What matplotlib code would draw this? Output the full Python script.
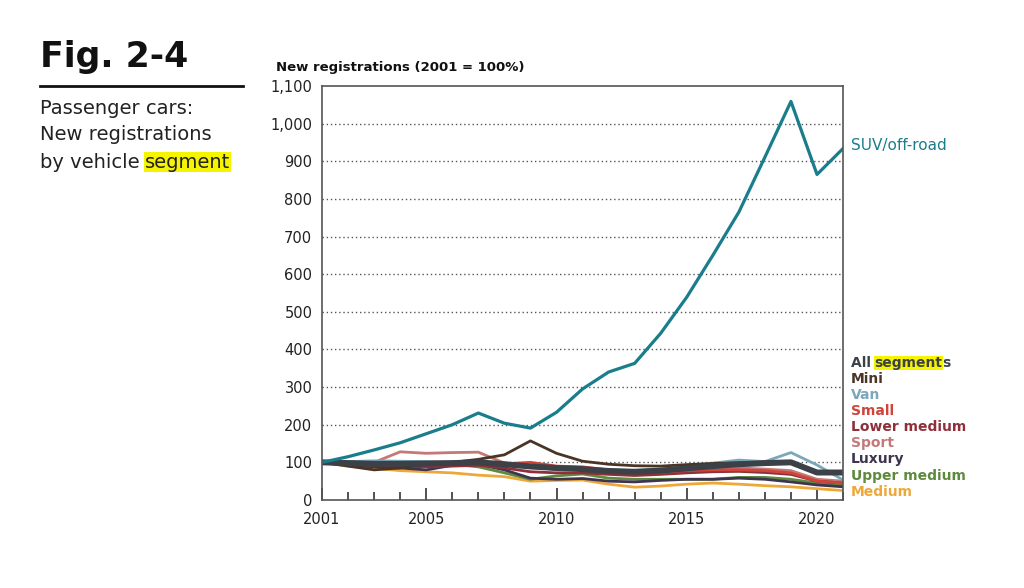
import matplotlib
matplotlib.use("Agg")
from matplotlib import pyplot as plt

plt.rcParams['font.family'] = ['DejaVu Sans']

years = list(range(2001, 2022))

suv = [100, 115, 133, 152, 176, 200, 231, 204, 191, 233, 295, 340, 363, 443, 539, 650, 765, 911, 1059, 865, 934]
all_segments = [100, 98, 96, 96, 97, 98, 100, 95, 89, 85, 82, 77, 75, 78, 84, 90, 95, 98, 100, 73, 73]
mini = [100, 90, 80, 85, 95, 100, 108, 120, 157, 124, 103, 95, 91, 90, 94, 97, 99, 100, 100, 70, 71]
van = [100, 102, 104, 103, 102, 100, 98, 94, 88, 82, 84, 80, 78, 82, 90, 98, 106, 102, 126, 93, 53]
small = [100, 98, 96, 95, 95, 97, 98, 96, 100, 90, 88, 80, 75, 74, 78, 80, 80, 78, 72, 50, 45]
lower_medium = [100, 95, 92, 90, 88, 90, 92, 85, 75, 72, 72, 68, 65, 68, 72, 75, 76, 73, 68, 50, 45]
sport = [100, 95, 100, 128, 124, 126, 127, 98, 90, 80, 82, 75, 72, 70, 75, 80, 85, 82, 78, 55, 50]
luxury = [100, 92, 88, 85, 80, 92, 95, 80, 58, 55, 57, 50, 48, 52, 55, 55, 58, 55, 48, 40, 35]
upper_medium = [100, 100, 100, 100, 98, 95, 88, 72, 55, 64, 69, 58, 55, 55, 55, 55, 60, 60, 55, 45, 40]
medium = [100, 90, 84, 78, 75, 72, 66, 62, 50, 52, 53, 42, 34, 37, 42, 45, 42, 38, 35, 30, 25]

labels = ["Mini", "Van", "Small", "Lower medium", "Sport", "Luxury", "Upper medium", "Medium"]
series = [mini, van, small, lower_medium, sport, luxury, upper_medium, medium]
colors = ["#4a3426", "#7ba7ba", "#d0443a", "#8e2f3a", "#c47878", "#3d3550", "#5e8a3e", "#eea83a"]

fig = plt.figure(figsize=(10.24, 5.88), dpi=100)
ax = fig.add_axes([0.3145, 0.1497, 0.5088, 0.704])

for i in range(100, 1100, 100):
    ax.axhline(i, color="#555555", lw=1, ls=(0, (1, 2)), zorder=0)

# draw back to front so the thin ones sit under the total
for vals, c in zip(series[::-1], colors[::-1]):
    ax.plot(years, vals, color=c, lw=2)
ax.plot(years, all_segments, color="#3b4146", lw=4.3)
ax.plot(years, suv, color="#1a7d8c", lw=2.3)

ax.set_xlim(2001, 2021)
ax.set_ylim(0, 1100)
ax.set_yticks(range(0, 1200, 100))
ax.set_yticklabels(["0", "100", "200", "300", "400", "500", "600", "700", "800", "900", "1,000", "1,100"])
ax.set_xticks([2001, 2005, 2010, 2015, 2020])
ax.set_xticks(years, minor=True)
ax.tick_params(axis="y", length=0, pad=7, labelsize=10.5, labelcolor="#222222")
ax.tick_params(axis="x", which="major", direction="in", length=9, width=1.2, color="#333333",
               labelsize=10.5, labelcolor="#222222", pad=9)
ax.tick_params(axis="x", which="minor", direction="in", length=6, width=1.2, color="#333333")
for s in ax.spines.values():
    s.set_color("#555555")
    s.set_linewidth(1.2)

fig.text(276 / 1024, 1 - 67 / 588, "New registrations (2001 = 100%)", fontsize=9.5,
         fontweight="bold", va="center", color="#111111")

# title block
fig.text(40 / 1024, 1 - 57 / 588, "Fig. 2-4", fontsize=25, fontweight="bold", va="center", color="#111111")
fig.add_artist(plt.Line2D([40 / 1024, 243 / 1024], [1 - 86 / 588, 1 - 86 / 588], color="#111111", lw=2))
fig.text(40 / 1024, 1 - 108 / 588, "Passenger cars:", fontsize=14, va="center", color="#222222")
fig.text(40 / 1024, 1 - 135 / 588, "New registrations", fontsize=14, va="center", color="#222222")
t = fig.text(40 / 1024, 1 - 162 / 588, "by vehicle", fontsize=14, va="center", color="#222222")
hl = dict(boxstyle="square,pad=0.05", fc="#f7f400", ec="none")
plt.annotate("segment", xy=(1, 0), xycoords=t, xytext=(4, 0), textcoords="offset points",
             fontsize=14, va="bottom", color="#222222", bbox=hl)

# right labels
fig.text(851 / 1024, 1 - 146 / 588, "SUV/off-road", fontsize=11,
         va="center", color="#1a7d8c")
a1 = fig.text(851 / 1024, 1 - 363 / 588, "All ", fontsize=10, fontweight="bold", va="center", color="#3b4146")
a2 = plt.annotate("segment", xy=(1, 0), xycoords=a1, xytext=(-1, 0), textcoords="offset points",
                  fontsize=10, fontweight="bold", va="bottom",
                  color="#3b4146", bbox=dict(boxstyle="square,pad=0.02", fc="#f7f400", ec="none"))
plt.annotate("s", xy=(1, 0), xycoords=a2, fontsize=10, fontweight="bold", va="bottom", color="#3b4146")
for k, (lab, c) in enumerate(zip(labels, colors)):
    fig.text(851 / 1024, 1 - (379 + k * 16.1) / 588, lab, fontsize=10, fontweight="bold",
             va="center", color=c)

fig.savefig("out.png", dpi=100)
